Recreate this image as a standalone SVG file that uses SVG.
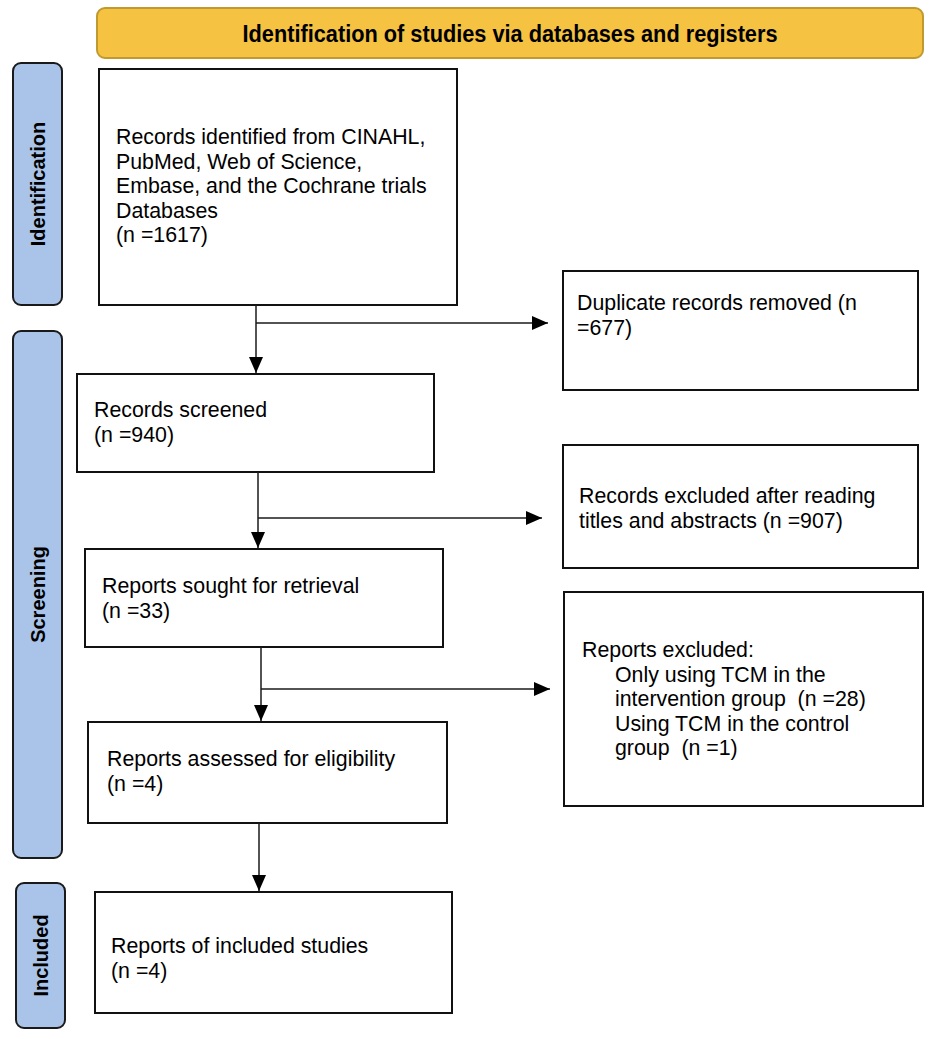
<svg xmlns="http://www.w3.org/2000/svg" width="935" height="1039" viewBox="0 0 935 1039">
<defs>
<style>
.box{fill:#fff;stroke:#111;stroke-width:2}
.phase{fill:#a9c4e8;stroke:#1a1a1a;stroke-width:2}
.t{font-family:"Liberation Sans",Arial,sans-serif;font-size:21.33px;fill:#000}
.pt{font-family:"Liberation Sans",Arial,sans-serif;font-size:20px;font-weight:bold;fill:#000;text-anchor:middle}
.ln{fill:none;stroke:#1a1a1a;stroke-width:1.5}
</style>
<marker id="ah" markerUnits="userSpaceOnUse" markerWidth="16" markerHeight="14" refX="16" refY="7" orient="auto">
<path d="M0,0 L16,7 L0,14 z" fill="#000"/>
</marker>
</defs>
<rect width="935" height="1039" fill="#fff"/>

<g id="header">
<rect x="97" y="8" width="826" height="50" rx="8" fill="#f5c242" stroke="#c09a2e" stroke-width="2"/>
<text x="510" y="41.5" font-family="'Liberation Sans Narrow','Liberation Sans',Arial,sans-serif" font-size="23" font-weight="bold" text-anchor="middle" textLength="535" lengthAdjust="spacingAndGlyphs">Identification of studies via databases and registers</text>
</g>

<g id="phase-identification">
<rect class="phase" x="13" y="63" width="49" height="242" rx="8"/>
<text class="pt" transform="translate(44.5,184) rotate(-90)">Identification</text>
</g>
<g id="phase-screening">
<rect class="phase" x="13" y="331" width="49" height="527" rx="8"/>
<text class="pt" transform="translate(44.5,594.5) rotate(-90)">Screening</text>
</g>
<g id="phase-included">
<rect class="phase" x="16" y="883" width="49" height="145" rx="8"/>
<text class="pt" transform="translate(47.5,955.5) rotate(-90)">Included</text>
</g>

<g id="records-identified">
<rect class="box" x="99" y="69" width="358" height="236"/>
<text class="t" x="116" y="144">Records identified from CINAHL,</text>
<text class="t" x="116" y="168.5">PubMed, Web of Science,</text>
<text class="t" x="116" y="193">Embase, and the Cochrane trials</text>
<text class="t" x="116" y="217.5">Databases</text>
<text class="t" x="116" y="242">(n =1617)</text>
</g>

<g id="duplicates-removed">
<rect class="box" x="563" y="271" width="355" height="119"/>
<text class="t" x="577" y="310">Duplicate records removed (n</text>
<text class="t" x="577" y="334.5">=677)</text>
</g>

<g id="records-screened">
<rect class="box" x="77" y="374" width="357" height="98"/>
<text class="t" x="94" y="417">Records screened</text>
<text class="t" x="94" y="441.5">(n =940)</text>
</g>

<g id="records-excluded">
<rect class="box" x="563" y="445" width="355" height="123"/>
<text class="t" x="579" y="503">Records excluded after reading</text>
<text class="t" x="579" y="527.5">titles and abstracts (n =907)</text>
</g>

<g id="reports-sought">
<rect class="box" x="85" y="549" width="358" height="98"/>
<text class="t" x="102" y="593">Reports sought for retrieval</text>
<text class="t" x="102" y="617.5">(n =33)</text>
</g>

<g id="reports-excluded">
<rect class="box" x="564" y="592" width="359" height="214"/>
<text class="t" x="582" y="657">Reports excluded:</text>
<text class="t" x="615" y="681.5">Only using TCM in the</text>
<text class="t" x="615" y="706" xml:space="preserve">intervention group  (n =28)</text>
<text class="t" x="615" y="730.5">Using TCM in the control</text>
<text class="t" x="615" y="755" xml:space="preserve">group  (n =1)</text>
</g>

<g id="reports-assessed">
<rect class="box" x="88" y="722" width="359" height="101"/>
<text class="t" x="107" y="766">Reports assessed for eligibility</text>
<text class="t" x="107" y="790.5">(n =4)</text>
</g>

<g id="reports-included">
<rect class="box" x="95" y="892" width="357" height="121"/>
<text class="t" x="111" y="953">Reports of included studies</text>
<text class="t" x="111" y="977.5">(n =4)</text>
</g>

<g id="connectors">
<line class="ln" x1="256" y1="305" x2="256" y2="373" marker-end="url(#ah)"/>
<line class="ln" x1="256" y1="323" x2="548" y2="323" marker-end="url(#ah)"/>
<line class="ln" x1="258" y1="472" x2="258" y2="548" marker-end="url(#ah)"/>
<line class="ln" x1="258" y1="518" x2="542" y2="518" marker-end="url(#ah)"/>
<line class="ln" x1="261" y1="647" x2="261" y2="721" marker-end="url(#ah)"/>
<line class="ln" x1="261" y1="689" x2="550" y2="689" marker-end="url(#ah)"/>
<line class="ln" x1="259" y1="823" x2="259" y2="891" marker-end="url(#ah)"/>
</g>
</svg>
